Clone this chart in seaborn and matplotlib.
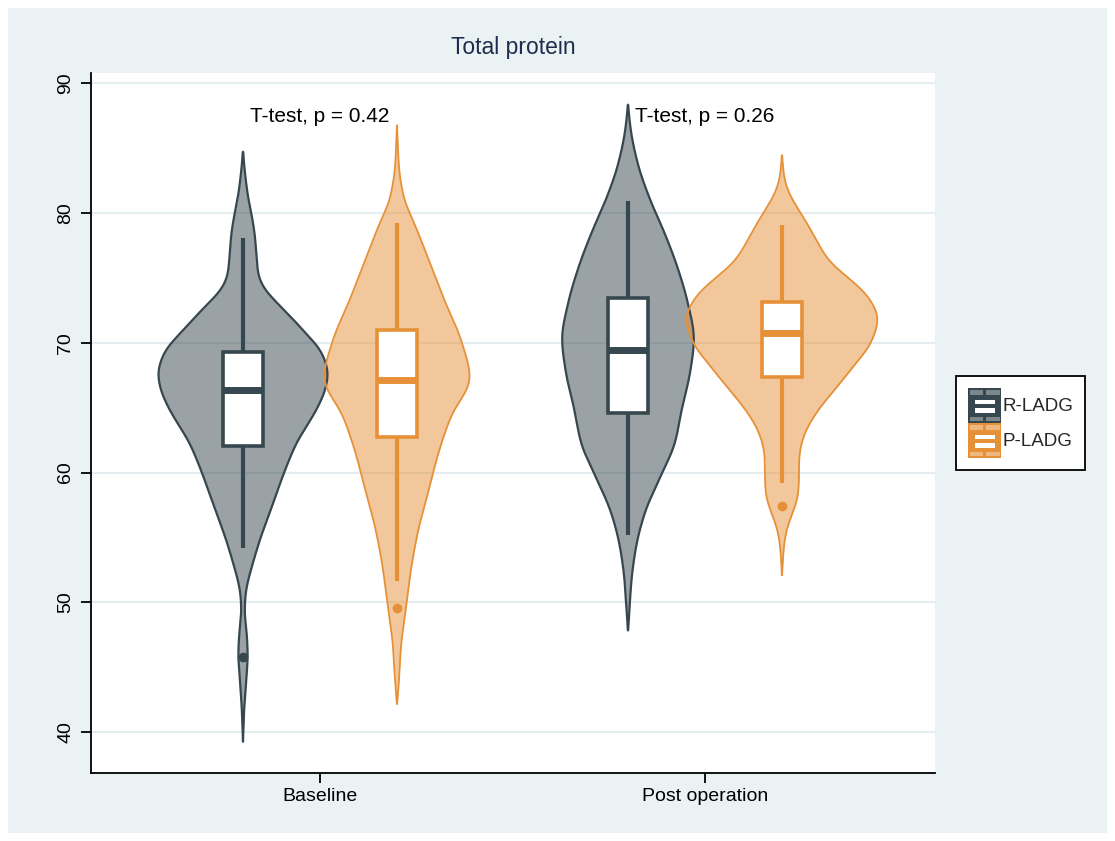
import numpy as np
import matplotlib
matplotlib.use("Agg")
import matplotlib.pyplot as plt
from matplotlib.patches import Rectangle, Patch
from matplotlib.legend_handler import HandlerBase
import seaborn as sns

# ---------------- data ----------------
groups = ["Baseline", "Post operation"]
series = ["R-LADG", "P-LADG"]
p_values = ["0.42", "0.26"]
title = "Total protein"

# violin outlines: value levels and relative density (half width)
r_base_y = [39.3, 42.0, 44.1, 45.9, 47.66, 49.2, 50.5, 51.5, 52.8, 54.85, 57.4, 59.98, 62.5,
            63.5, 65.07, 66.6, 67.63, 68.66, 69.7, 70.7, 71.74, 72.77, 73.8, 74.6, 75.36,
            76.6, 78.16, 79.7, 81.25, 83.05, 84.71]
r_base_d = [0, 1.3, 3.3, 4.7, 3.7, 1.7, 2.3, 4.5, 9, 17, 29, 41, 55,
            63, 75, 83, 85, 82, 75, 63, 51, 38, 25, 18, 15,
            13.5, 12, 9, 5, 2, 0]

p_base_y = [42.2, 43.7, 46.64, 49.59, 52.54, 55.49, 58.44, 61.39, 64.33, 67.28, 70.23,
            73.17, 76.13, 79.08, 81.14, 83.5, 86.74]
p_base_d = [0, 1.7, 4, 9, 14, 21, 31, 41, 54, 73, 64,
            48, 33, 18, 7, 2, 0]

r_post_y = [47.86, 48.91, 51.59, 54.27, 56.95, 59.62, 62.3, 64.98, 67.66, 70.33, 73.01,
            75.69, 78.37, 81.04, 83.72, 86.4, 88.33]
r_post_d = [0, 1, 3.3, 8, 17, 32, 47, 54, 62, 66, 60,
            50, 37, 22, 10, 2.7, 0]

p_post_y = [52.1, 54.41, 55.7, 56.98, 58.26, 59.55, 60.83, 62.11, 63.4, 64.68, 65.96,
            67.25, 68.53, 69.85, 71.87, 73.66, 74.95, 76.23, 77.52, 78.8, 80.08, 81.37,
            82.66, 84.45]
p_post_d = [0, 2, 5, 11, 16, 17, 17, 19, 25, 35, 48,
            62, 75, 88, 96, 85, 67, 48, 37, 28, 18, 8,
            2.3, 0]

# box plot statistics: whisker low, q1, median, q3, whisker high
r_base_box = [54.18, 62.03, 66.35, 69.30, 78.03]
p_base_box = [51.66, 62.72, 67.11, 70.99, 79.22]
r_post_box = [55.20, 64.57, 69.44, 73.41, 80.90]
p_post_box = [59.20, 67.33, 70.76, 73.15, 79.06]
r_base_out = [45.8]
p_base_out = [49.59]
r_post_out = []
p_post_out = [57.4]

annot_y = 87.4

# ---------------- style ----------------
sns.set_theme(style="ticks")
plt.rcParams["font.family"] = ["Liberation Sans", "DejaVu Sans"]
palette = sns.color_palette(["#37474F", "#E69138"])
BG = "#EAF2F3"
GRID = "#E4EDF0"

fig = plt.figure(figsize=(11.15, 8.41), dpi=100)
fig.patch.set_facecolor("white")
fig.patches.append(Rectangle((8 / 1115, 8 / 841), (1107 - 8) / 1115, (833 - 8) / 841,
                             transform=fig.transFigure, facecolor=BG, edgecolor="none",
                             zorder=-10))
ax = fig.add_axes([91 / 1115, 68 / 841, (935 - 91) / 1115, 700 / 841])
ax.set_facecolor("white")

PX = 1 / 385.0          # pixels -> category units
offset = 77 * PX
dens_scale = PX


def pchip(x, y, xn):
    x = np.asarray(x, float)
    y = np.asarray(y, float)
    h = np.diff(x)
    d = np.diff(y) / h
    m = np.zeros_like(y)
    for k in range(1, len(x) - 1):
        if d[k - 1] * d[k] > 0:
            w1 = 2 * h[k] + h[k - 1]
            w2 = h[k] + 2 * h[k - 1]
            m[k] = (w1 + w2) / (w1 / d[k - 1] + w2 / d[k])
    m[0] = d[0]
    m[-1] = d[-1]
    idx = np.clip(np.searchsorted(x, xn) - 1, 0, len(x) - 2)
    t = (xn - x[idx]) / h[idx]
    h00 = 2 * t**3 - 3 * t**2 + 1
    h10 = t**3 - 2 * t**2 + t
    h01 = -2 * t**3 + 3 * t**2
    h11 = t**3 - t**2
    return (h00 * y[idx] + h10 * h[idx] * m[idx] + h01 * y[idx + 1]
            + h11 * h[idx] * m[idx + 1])


def smooth_outline(ys, ds, n=800, sigma=0.45):
    yy = np.linspace(ys[0], ys[-1], n)
    ww = np.clip(pchip(ys, ds, yy), 0, None)
    step = yy[1] - yy[0]
    k = int(3 * sigma / step)
    kern = np.exp(-0.5 * (np.arange(-k, k + 1) * step / sigma) ** 2)
    padded = np.concatenate([np.zeros(k), ww, np.zeros(k)])
    sm = np.convolve(padded, kern, mode="same")[k:-k] / kern.sum()
    sm[0] = 0
    sm[-1] = 0
    return yy, sm


def draw_violin(pos, ys, ds, color, lw):
    yy, ww = smooth_outline(ys, ds)
    ww = ww * dens_scale
    ax.fill_betweenx(yy, pos - ww, pos + ww, facecolor=color, alpha=0.5,
                     linewidth=0, zorder=2)
    xo = np.concatenate([pos - ww, (pos + ww)[::-1]])
    yo = np.concatenate([yy, yy[::-1]])
    ax.plot(xo, yo, color=color, lw=lw, zorder=2.1, solid_joinstyle="round")


def draw_box(pos, box, outs, color):
    stats = [dict(whislo=box[0], q1=box[1], med=box[2], q3=box[3], whishi=box[4],
                  fliers=outs)]
    ax.bxp(stats, positions=[pos], widths=40 * PX, patch_artist=True, showcaps=False,
           manage_ticks=False, zorder=3,
           boxprops=dict(facecolor="white", edgecolor=color, linewidth=2.6),
           medianprops=dict(color=color, linewidth=5, solid_capstyle="butt"),
           whiskerprops=dict(color=color, linewidth=3, solid_capstyle="butt"),
           flierprops=dict(marker="o", markerfacecolor=color, markeredgecolor=color,
                           markersize=6))


violins = [
    [(r_base_y, r_base_d, r_base_box, r_base_out), (p_base_y, p_base_d, p_base_box, p_base_out)],
    [(r_post_y, r_post_d, r_post_box, r_post_out), (p_post_y, p_post_d, p_post_box, p_post_out)],
]
for gi, pair in enumerate(violins):
    for si, (ys, ds, box, outs) in enumerate(pair):
        pos = gi + (-offset if si == 0 else offset)
        draw_violin(pos, ys, ds, palette[si], 1.6 if si == 0 else 1.3)
for gi, pair in enumerate(violins):
    for si, (ys, ds, box, outs) in enumerate(pair):
        pos = gi + (-offset if si == 0 else offset)
        draw_box(pos, box, outs, palette[si])

for gi, p in enumerate(p_values):
    ax.text(gi, annot_y, f"T-test, p = {p}", ha="center", va="center", fontsize=15,
            color="black", zorder=5)

# axes
ax.set_xlim(-229 * PX, 1 + 230 * PX)
ax.set_ylim(36.87, 90.77)
ax.set_xticks(range(len(groups)))
ax.set_xticklabels(groups, fontsize=14)
ax.set_yticks([40, 50, 60, 70, 80, 90])
ax.set_yticklabels(["40", "50", "60", "70", "80", "90"], fontsize=14, rotation=90,
                   va="center")
ax.yaxis.grid(True, color=GRID, linewidth=1.5, zorder=0)
ax.xaxis.grid(False)
ax.set_axisbelow(True)
sns.despine(ax=ax)
for s in ["left", "bottom"]:
    ax.spines[s].set_color("black")
    ax.spines[s].set_linewidth(1.3)
ax.tick_params(axis="both", colors="black", length=7, width=1.3, direction="out")
ax.tick_params(axis="y", pad=5)
ax.tick_params(axis="x", pad=4)
ax.set_xlabel("")
ax.set_ylabel("")

ax.text(0.5, 1 + 25 / 700, title, transform=ax.transAxes, ha="center", va="center",
        fontsize=16.5, color="#1E2D4E")


# legend with box-like icons
class BoxIconHandler(HandlerBase):
    def create_artists(self, legend, orig_handle, xdescent, ydescent, width, height,
                       fontsize, trans):
        c = orig_handle.get_facecolor()
        x0, y0 = -xdescent, -ydescent
        arts = [Rectangle((x0, y0), width, height, facecolor=c, edgecolor="none",
                          transform=trans)]
        for yb in (0.28, 0.53):
            arts.append(Rectangle((x0 + 0.2 * width, y0 + yb * height), 0.6 * width,
                                  0.14 * height, facecolor="white", edgecolor="none",
                                  transform=trans))
        for yb in (0.05, 0.81):
            for xb in (0.04, 0.54):
                arts.append(Rectangle((x0 + xb * width, y0 + yb * height), 0.42 * width,
                                      0.13 * height, facecolor="white", alpha=0.35,
                                      edgecolor="none", transform=trans))
        return arts


handles = [Patch(facecolor=palette[i], label=series[i]) for i in range(len(series))]
leg = ax.legend(handles=handles, handler_map={Patch: BoxIconHandler()},
                loc="center left", bbox_to_anchor=(1.025, 0.5), fontsize=13.5,
                handlelength=1.76, handleheight=2.5, labelspacing=0,
                handletextpad=0.05, borderpad=0.65, borderaxespad=0,
                frameon=True, fancybox=False, framealpha=1, edgecolor="black")
leg.get_frame().set_linewidth(1.3)

fig.savefig("out.png", dpi=100, facecolor=fig.get_facecolor())
